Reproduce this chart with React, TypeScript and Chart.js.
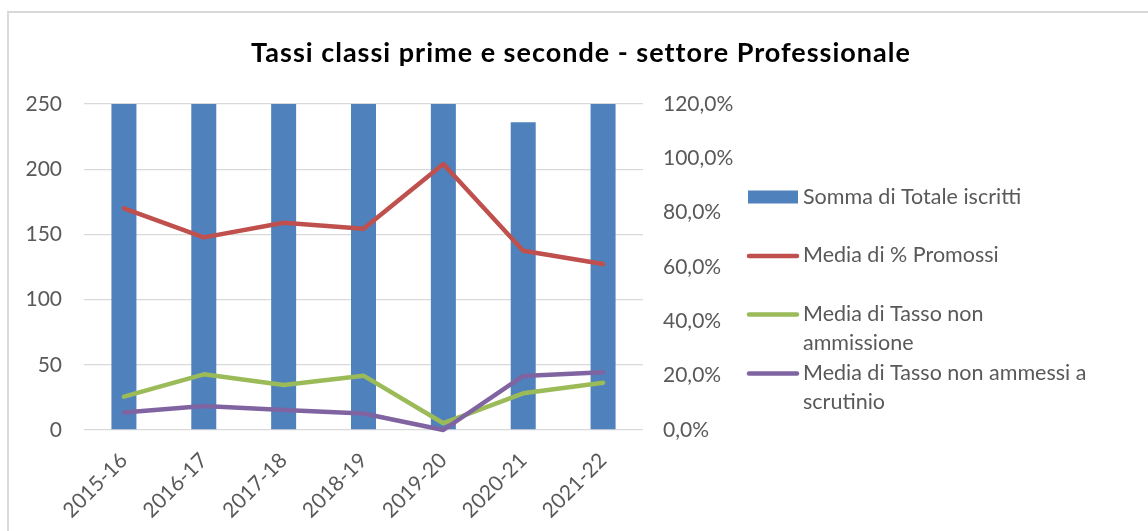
import React, { useEffect, useRef } from 'react';
import { Chart, registerables } from 'chart.js';

Chart.register(...registerables);

const categories = ['2015-16', '2016-17', '2017-18', '2018-19', '2019-20', '2020-21', '2021-22'];
// bars reaching the top are cut at the axis maximum in the picture
const totaleIscritti = [250, 250, 250, 250, 250, 236, 250];
const promossi = [0.816, 0.709, 0.763, 0.741, 0.979, 0.66, 0.611];
const nonAmmissione = [0.123, 0.205, 0.166, 0.2, 0.025, 0.135, 0.174];
const nonAmmessiScrutinio = [0.064, 0.088, 0.074, 0.061, 0.0, 0.199, 0.213];

const leftMax = 250;
const leftStep = 50;
const rightMax = 1.2;
const rightStep = 0.2;

const titleText = 'Tassi classi prime e seconde - settore Professionale';
const seriesLabels = [
  'Somma di Totale iscritti',
  'Media di % Promossi',
  'Media di Tasso non ammissione',
  'Media di Tasso non ammessi a scrutinio',
];
const legendLines = [
  ['Somma di Totale iscritti'],
  ['Media di % Promossi'],
  ['Media di Tasso non', 'ammissione'],
  ['Media di Tasso non ammessi a', 'scrutinio'],
];
const colors = ['#4F81BD', '#C0504D', '#9BBB59', '#8064A2'];

const FONT = 'Lato, "Open Sans", sans-serif';
const TICK_COLOR = '#595959';

const decorPlugin = {
  id: 'decor',
  afterDraw(chart: any) {
    const ctx = chart.ctx as any;
    ctx.save();
    // title
    ctx.fillStyle = '#000000';
    ctx.font = `bold 27px ${FONT}`;
    try {
      ctx.letterSpacing = '1px';
    } catch (e) {}
    ctx.textAlign = 'center';
    ctx.textBaseline = 'alphabetic';
    ctx.fillText(titleText, 581, 62);
    try {
      ctx.letterSpacing = '0px';
    } catch (e) {}

    // legend
    const itemY = [197, 255.5, 314, 373];
    const lineGap = 29.5;
    ctx.font = `21.5px ${FONT}`;
    ctx.textAlign = 'left';
    ctx.textBaseline = 'middle';
    legendLines.forEach((lines, i) => {
      const y = itemY[i];
      if (i === 0) {
        ctx.fillStyle = colors[0];
        ctx.fillRect(748, y - 6.5, 50, 13);
      } else {
        ctx.strokeStyle = colors[i];
        ctx.lineWidth = 4.5;
        ctx.lineCap = 'round';
        ctx.beginPath();
        ctx.moveTo(749, y + 0.5);
        ctx.lineTo(797, y + 0.5);
        ctx.stroke();
      }
      ctx.fillStyle = TICK_COLOR;
      lines.forEach((t, j) => ctx.fillText(t, 803, y + j * lineGap));
    });
    ctx.restore();
  },
};

export default function App() {
  const ref = useRef<HTMLCanvasElement | null>(null);

  useEffect(() => {
    if (!ref.current) return;
    const lineDs = (label: string, data: number[], color: string, order: number) => ({
      type: 'line' as const,
      label,
      data,
      yAxisID: 'y1',
      borderColor: color,
      backgroundColor: color,
      borderWidth: 4.5,
      borderCapStyle: 'round' as const,
      borderJoinStyle: 'round' as const,
      pointRadius: 0,
      pointHoverRadius: 0,
      tension: 0,
      order,
      clip: 8,
    });
    const chart = new Chart(ref.current, {
      type: 'bar',
      data: {
        labels: categories,
        datasets: [
          {
            type: 'bar',
            label: seriesLabels[0],
            data: totaleIscritti,
            yAxisID: 'y',
            backgroundColor: colors[0],
            borderWidth: 0,
            categoryPercentage: 1,
            barPercentage: 0.313,
            order: 3,
          },
          lineDs(seriesLabels[1], promossi, colors[1], 2),
          lineDs(seriesLabels[2], nonAmmissione, colors[2], 1),
          lineDs(seriesLabels[3], nonAmmessiScrutinio, colors[3], 0),
        ] as any,
      },
      options: {
        animation: false,
        responsive: false,
        maintainAspectRatio: false,
        layout: { padding: { top: 104, left: 0, right: 0, bottom: 0 } },
        plugins: {
          legend: { display: false },
          title: { display: false },
          tooltip: { enabled: false },
        },
        scales: {
          x: {
            grid: { display: false, drawTicks: false },
            border: { display: false },
            ticks: {
              color: TICK_COLOR,
              font: { family: FONT, size: 21 },
              maxRotation: 45,
              minRotation: 45,
              padding: 18,
            },
            afterFit(scale: any) {
              scale.height = 101;
            },
          },
          y: {
            position: 'left',
            min: 0,
            max: leftMax,
            grid: { color: '#D9D9D9', lineWidth: 1.3, drawTicks: false },
            border: { display: false },
            ticks: {
              stepSize: leftStep,
              color: TICK_COLOR,
              font: { family: FONT, size: 21 },
              padding: 22,
            },
            afterFit(scale: any) {
              scale.width = 84;
            },
          },
          y1: {
            position: 'right',
            min: 0,
            max: rightMax,
            grid: { display: false, drawTicks: false },
            border: { display: false },
            ticks: {
              stepSize: rightStep,
              color: TICK_COLOR,
              font: { family: FONT, size: 21 },
              padding: 20,
              callback: (v: any) => (Number(v) * 100).toFixed(1).replace('.', ',') + '%',
            },
            afterFit(scale: any) {
              scale.width = 505;
            },
          },
        },
      } as any,
      plugins: [decorPlugin],
    });
    return () => chart.destroy();
  }, []);

  return (
    <div style={{ position: 'fixed', left: 0, top: 0, width: 1148, height: 531, background: '#fff', overflow: 'hidden' }}>
      <div
        style={{
          position: 'absolute',
          left: 7,
          top: 11,
          width: 1160,
          height: 540,
          border: '2px solid #D9D9D9',
          boxSizing: 'border-box',
        }}
      />
      <canvas ref={ref} width={1148} height={531} style={{ position: 'absolute', left: 0, top: 0 }} />
    </div>
  );
}
